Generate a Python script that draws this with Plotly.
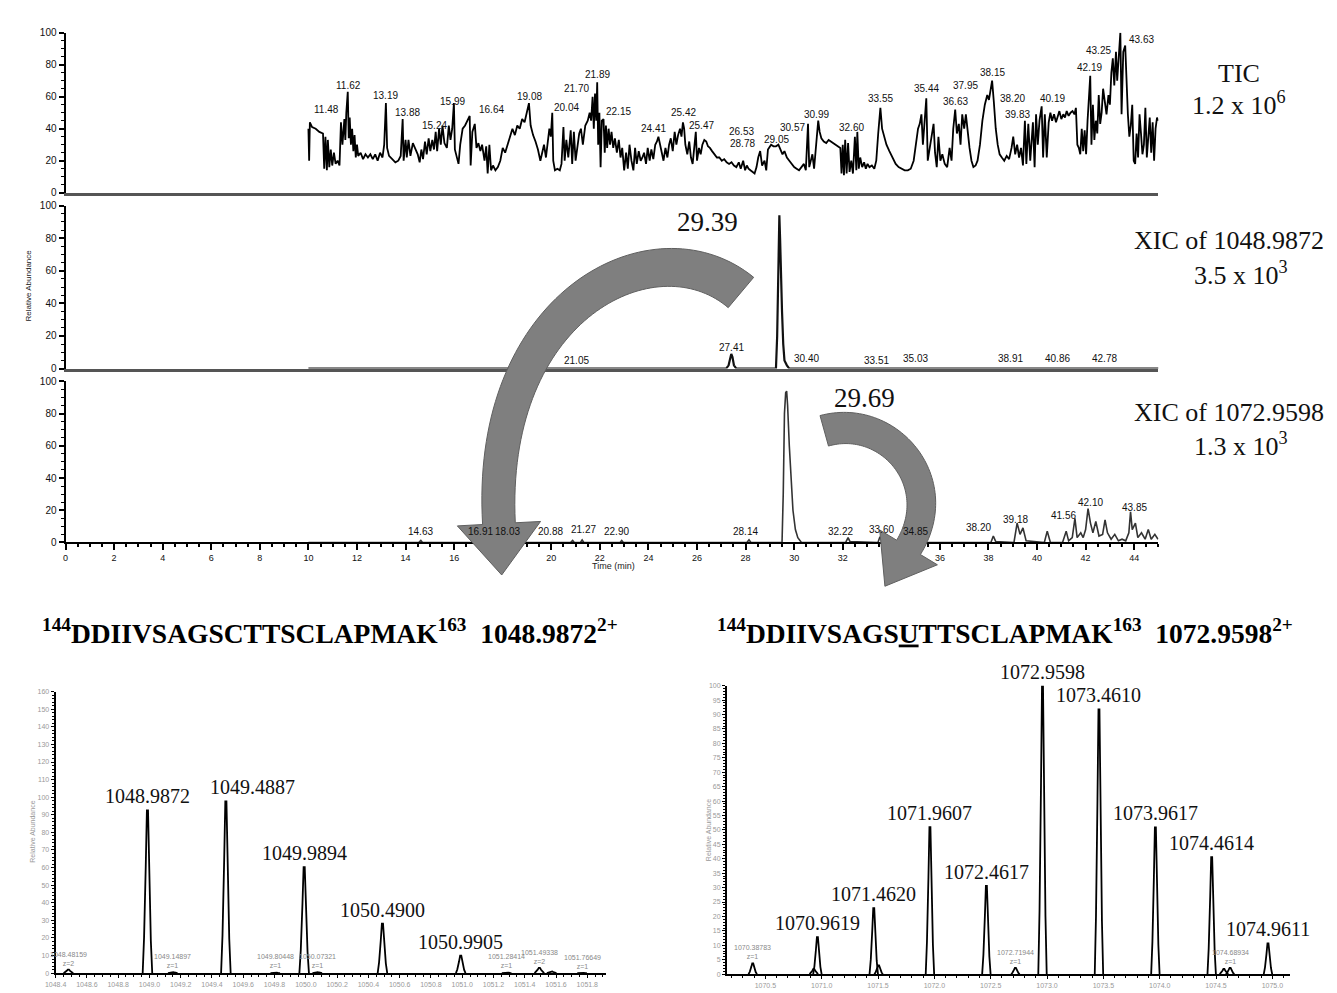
import numpy as np
import plotly.graph_objects as go

W, H = 1337, 993

# ---------------- LC-MS chromatograms (retention time, min / relative abundance, %) ----------------
tic_time = [
    10.00, 10.03, 10.06, 10.15, 10.30, 10.45, 10.60, 10.65, 10.70, 10.76, 10.80, 10.86, 10.92, 10.98,
    11.05, 11.12, 11.20, 11.28, 11.34, 11.40, 11.48, 11.52, 11.56, 11.62, 11.66, 11.70, 11.75, 11.80,
    11.85, 11.90, 11.95, 12.00, 12.05, 12.15, 12.25, 12.35, 12.45, 12.55, 12.65, 12.75, 12.85, 12.95,
    13.05, 13.12, 13.19, 13.24, 13.32, 13.45, 13.58, 13.70, 13.80, 13.88, 13.92, 14.00, 14.05, 14.12,
    14.20, 14.30, 14.40, 14.50, 14.58, 14.65, 14.72, 14.80, 14.87, 14.95, 15.02, 15.10, 15.17, 15.24,
    15.30, 15.38, 15.45, 15.52, 15.60, 15.70, 15.78, 15.85, 15.92, 15.99, 16.03, 16.10, 16.18, 16.25,
    16.35, 16.45, 16.55, 16.64, 16.68, 16.75, 16.85, 16.92, 17.00, 17.08, 17.15, 17.25, 17.32, 17.38,
    17.45, 17.52, 17.60, 17.70, 17.80, 17.90, 18.00, 18.10, 18.20, 18.30, 18.40, 18.50, 18.60, 18.70,
    18.80, 18.90, 19.00, 19.08, 19.15, 19.25, 19.35, 19.45, 19.55, 19.62, 19.70, 19.78, 19.85, 19.92,
    19.98, 20.04, 20.08, 20.15, 20.25, 20.35, 20.42, 20.50, 20.55, 20.62, 20.70, 20.80, 20.86, 20.93,
    21.00, 21.08, 21.15, 21.22, 21.30, 21.40, 21.50, 21.58, 21.64, 21.70, 21.75, 21.80, 21.85, 21.89,
    21.93, 21.98, 22.03, 22.08, 22.15, 22.20, 22.25, 22.30, 22.36, 22.42, 22.48, 22.55, 22.62, 22.70,
    22.78, 22.85, 22.92, 23.00, 23.08, 23.15, 23.22, 23.30, 23.38, 23.45, 23.52, 23.60, 23.68, 23.75,
    23.82, 23.90, 23.97, 24.05, 24.12, 24.20, 24.28, 24.35, 24.41, 24.48, 24.55, 24.62, 24.70, 24.78,
    24.85, 24.92, 25.00, 25.08, 25.15, 25.22, 25.30, 25.36, 25.42, 25.47, 25.52, 25.60, 25.68, 25.75,
    25.82, 25.88, 25.95, 26.00, 26.08, 26.15, 26.22, 26.30, 26.38, 26.45, 26.53, 26.62, 26.72, 26.82,
    26.92, 27.02, 27.12, 27.22, 27.32, 27.42, 27.52, 27.62, 27.72, 27.80, 27.90, 27.98, 28.05, 28.12,
    28.20, 28.28, 28.37, 28.45, 28.52, 28.60, 28.68, 28.78, 28.85, 28.92, 29.00, 29.05, 29.15, 29.25,
    29.35, 29.45, 29.52, 29.60, 29.70, 29.80, 29.90, 30.00, 30.10, 30.20, 30.30, 30.40, 30.48, 30.57,
    30.62, 30.68, 30.75, 30.82, 30.90, 30.99, 31.05, 31.12, 31.22, 31.32, 31.42, 31.52, 31.62, 31.72,
    31.82, 31.90, 31.95, 32.00, 32.05, 32.10, 32.16, 32.22, 32.28, 32.35, 32.42, 32.50, 32.56, 32.60,
    32.66, 32.72, 32.80, 32.88, 32.95, 33.02, 33.10, 33.20, 33.30, 33.38, 33.46, 33.55, 33.62, 33.70,
    33.80, 33.92, 34.05, 34.18, 34.30, 34.42, 34.55, 34.68, 34.80, 34.92, 35.02, 35.10, 35.17, 35.24,
    35.30, 35.37, 35.44, 35.50, 35.58, 35.66, 35.74, 35.80, 35.87, 35.94, 36.02, 36.10, 36.20, 36.30,
    36.40, 36.48, 36.55, 36.63, 36.70, 36.78, 36.85, 36.92, 37.00, 37.07, 37.15, 37.22, 37.30, 37.38,
    37.47, 37.55, 37.65, 37.75, 37.85, 37.95, 38.02, 38.08, 38.15, 38.22, 38.30, 38.38, 38.46, 38.55,
    38.65, 38.75, 38.85, 38.95, 39.02, 39.10, 39.18, 39.26, 39.34, 39.42, 39.50, 39.56, 39.64, 39.72,
    39.83, 39.90, 39.96, 40.03, 40.10, 40.19, 40.25, 40.32, 40.40, 40.48, 40.55, 40.62, 40.70, 40.78,
    40.85, 40.92, 41.00, 41.08, 41.15, 41.22, 41.30, 41.38, 41.46, 41.54, 41.60, 41.66, 41.72, 41.78,
    41.84, 41.90, 41.96, 42.02, 42.08, 42.19, 42.24, 42.30, 42.36, 42.42, 42.48, 42.54, 42.60, 42.66,
    42.72, 42.78, 42.86, 42.94, 43.00, 43.06, 43.12, 43.18, 43.25, 43.30, 43.36, 43.43, 43.48, 43.55,
    43.63, 43.68, 43.74, 43.80, 43.86, 43.92, 43.98, 44.04, 44.10, 44.16, 44.22, 44.28, 44.34, 44.40,
    44.46, 44.52, 44.58, 44.64, 44.70, 44.76, 44.82, 44.88, 44.94, 44.98,
]
tic_abund = [
    40, 20, 44, 41, 40, 38, 37, 15, 35, 14, 33, 16, 27, 17,
    25, 18, 20, 17, 44, 30, 46, 33, 50, 63, 34, 47, 30, 40,
    26, 36, 22, 30, 23, 25, 21, 24, 22, 24, 21, 24, 20, 25,
    22, 30, 56, 28, 23, 21, 19, 20, 23, 46, 20, 33, 22, 33,
    23, 31, 28, 24, 19, 27, 21, 32, 24, 34, 26, 33, 27, 38,
    26, 40, 30, 42, 31, 28, 42, 33, 40, 56, 27, 22, 18, 30,
    40, 42, 45, 48, 17, 38, 43, 28, 31, 26, 30, 20, 29, 12,
    30, 14, 17, 14, 16, 20, 28, 25, 30, 35, 40, 36, 42, 40,
    46, 44, 50, 56, 42, 36, 32, 27, 20, 24, 30, 22, 30, 40,
    35, 50, 20, 14, 15, 14, 18, 41, 20, 33, 22, 39, 18, 38,
    20, 30, 37, 40, 30, 42, 45, 50, 45, 60, 40, 62, 45, 69,
    30, 50, 16, 45, 46, 25, 42, 28, 40, 30, 38, 28, 34, 25,
    33, 22, 28, 14, 25, 15, 30, 20, 14, 28, 18, 26, 20, 22,
    25, 18, 28, 20, 27, 21, 30, 32, 35, 30, 24, 20, 28, 22,
    30, 34, 26, 38, 30, 36, 40, 35, 44, 40, 30, 24, 32, 22,
    18, 26, 38, 20, 28, 24, 30, 33, 32, 29, 28, 26, 24, 22,
    22, 20, 21, 19, 18, 19, 17, 16, 19, 15, 20, 14, 17, 15,
    14, 13, 12, 16, 22, 26, 17, 20, 14, 27, 29, 30, 29, 29,
    30, 27, 24, 26, 22, 20, 18, 16, 15, 14, 16, 18, 14, 43,
    16, 20, 24, 15, 30, 45, 38, 34, 32, 31, 33, 32, 31, 30,
    29, 28, 12, 30, 11, 33, 12, 31, 13, 20, 12, 35, 14, 38,
    15, 22, 16, 19, 15, 18, 16, 17, 15, 20, 37, 53, 40, 35,
    30, 26, 22, 18, 16, 15, 14, 14, 15, 20, 30, 40, 43, 49,
    30, 45, 59, 20, 28, 36, 43, 25, 16, 35, 20, 24, 18, 16,
    28, 20, 40, 52, 37, 43, 30, 49, 40, 49, 35, 28, 20, 16,
    17, 20, 30, 45, 55, 61, 58, 65, 70, 57, 40, 30, 24, 22,
    20, 23, 21, 28, 35, 24, 30, 22, 28, 17, 45, 18, 43, 20,
    44, 16, 49, 30, 45, 54, 22, 49, 22, 44, 50, 45, 49, 44,
    47, 51, 46, 49, 47, 51, 48, 50, 51, 49, 53, 30, 28, 24,
    40, 26, 39, 24, 45, 73, 30, 55, 33, 45, 37, 61, 43, 50,
    65, 57, 49, 61, 55, 75, 84, 67, 88, 70, 82, 100, 49, 88,
    92, 70, 49, 35, 42, 55, 20, 18, 37, 22, 49, 37, 24, 30,
    53, 22, 38, 47, 25, 44, 20, 40, 47, 45,
]

xic1_time = [10.00, 27.20, 27.30, 27.36, 27.41, 27.46, 27.52, 27.62, 29.25, 29.30, 29.35, 29.39,
             29.42, 29.45, 29.50, 29.55, 29.60, 29.70, 29.80, 45.00]
xic1_abund = [0, 0, 2, 7, 9, 7, 2, 0, 0, 20, 70, 94,
              80, 60, 35, 15, 5, 2, 0, 0]

xic2_time = [10.00, 14.55, 14.63, 14.70, 20.80, 20.88, 20.95, 21.20, 21.27, 21.34, 22.83, 22.90,
             22.97, 28.05, 28.14, 28.22, 29.50, 29.55, 29.60, 29.65, 29.69, 29.73, 29.80, 29.88,
             29.95, 30.05, 30.15, 30.30, 32.12, 32.22, 32.30, 33.45, 33.52, 33.60, 33.68, 33.76,
             33.85, 34.75, 34.85, 34.95, 38.10, 38.20, 38.30, 39.05, 39.18, 39.30, 39.42, 39.55,
             40.30, 40.42, 40.55, 41.05, 41.20, 41.30, 41.45, 41.56, 41.65, 41.80, 41.90, 42.00,
             42.10, 42.20, 42.30, 42.42, 42.55, 42.70, 42.80, 42.90, 43.05, 43.20, 43.35, 43.50,
             43.65, 43.78, 43.85, 43.92, 44.05, 44.15, 44.30, 44.45, 44.58, 44.70, 44.85, 44.98]
xic2_abund = [0, 0, 1.2, 0, 0, 1.2, 0, 0, 1.6, 0, 0, 1.2,
              0, 0, 1.6, 0, 0, 30, 80, 93, 94, 85, 60, 35,
              20, 8, 3, 0, 0, 3, 0.5, 0, 3, 2, 3.5, 0.5,
              0, 0, 2, 0, 0, 4, 0.5, 0, 12, 5, 9, 1,
              0, 7, 0, 0, 7, 1, 3, 15, 3, 6, 3, 8,
              21, 12, 6, 13, 4, 5, 14, 6, 2, 5, 1, 2,
              1, 6, 19, 8, 12, 3, 6, 2, 8, 2, 5, 2]

# labelled retention times, with the position at which each label sits
tic_label_rt = [11.48, 11.62, 13.19, 13.88, 15.24, 15.99, 16.64, 19.08, 20.04, 21.70, 21.89,
                22.15, 24.41, 25.42, 25.47, 26.53, 28.78, 29.05, 30.57, 30.99, 32.60, 33.55,
                35.44, 36.63, 37.95, 38.15, 38.20, 39.83, 40.19, 42.19, 43.25, 43.43, 43.63]
tic_label_x = [10.73, 11.67, 13.18, 14.08, 15.18, 15.92, 17.55, 19.10, 20.61, 21.02, 21.92,
               22.78, 24.20, 25.43, 26.20, 27.84, 27.88, 29.27, 29.92, 30.94, 32.37, 33.55,
               35.43, 36.65, 37.06, 38.16, 38.98, 39.18, 40.65, 42.16, 42.53, 43.39, 44.29]
tic_label_y = [52, 67, 61, 50, 42, 57, 52, 60, 53, 65, 74,
               51, 40, 50, 42, 38, 31, 33, 41, 49, 41, 59,
               65, 57, 67, 75, 59, 49, 59, 78, 89, 105, 96]

xic1_label_rt = [21.05, 27.41, 30.40, 33.51, 35.03, 38.91, 40.86, 42.78]
xic1_label_x = [21.02, 27.43, 30.50, 33.39, 34.98, 38.90, 40.86, 42.78]
xic1_label_y = [5, 13, 6, 5, 6, 6, 6, 6]

xic2_label_rt = [14.63, 16.91, 18.03, 20.88, 21.27, 22.90, 28.14, 32.22, 33.60, 34.85,
                 38.20, 39.18, 41.56, 42.10, 43.85]
xic2_label_x = [14.62, 17.10, 18.20, 19.95, 21.33, 22.70, 28.00, 31.90, 33.60, 35.00,
                37.60, 39.10, 41.10, 42.20, 44.00]
xic2_label_y = [7, 7, 7, 7, 8, 7, 7, 7, 8, 7, 9, 14, 17, 25, 22]

# ---------------- isotope envelopes (m/z / relative abundance) ----------------
ms1_mz = [1048.9872, 1049.4887, 1049.9894, 1050.4900, 1050.9905]
ms1_int = [92.5, 97.6, 60.2, 28.1, 10.0]
ms1_minor_mz = [1048.4816, 1049.1490, 1049.8045, 1050.0732, 1051.2841, 1051.4934, 1051.5720,
                1051.7665]
ms1_minor_int = [2.0, 0.6, 0.4, 0.6, 0.5, 3.0, 1.0, 0.3]
ms1_minor_txt = ["1048.48159<br>z=2", "1049.14897<br>z=1", "1049.80448<br>z=1", "1050.07321<br>z=1",
                 "1051.28414<br>z=1", "1051.49338<br>z=2", "", "1051.76649<br>z=1"]

ms2_mz = [1070.9619, 1071.4620, 1071.9607, 1072.4617, 1072.9598, 1073.4610, 1073.9617,
          1074.4614, 1074.9611]
ms2_int = [12.8, 22.9, 51.0, 30.6, 100.0, 91.8, 50.9, 40.6, 10.7]
ms2_minor_mz = [1070.3878, 1070.9300, 1071.5050, 1072.7194, 1074.5700, 1074.6250]
ms2_minor_int = [3.7, 1.8, 3.0, 2.2, 1.8, 2.2]
ms2_minor_txt = ["1070.38783<br>z=1", "", "", "1072.71944<br>z=1", "", "1074.68934<br>z=1"]

SERIF = "Liberation Serif, Times New Roman, serif"
NARROW = "Liberation Sans Narrow, Arial Narrow, Liberation Sans, Arial, sans-serif"

fig = go.Figure()

# chromatogram traces
fig.add_trace(go.Scatter(x=tic_time, y=tic_abund, mode="lines", xaxis="x", yaxis="y",
                         line=dict(color="#000000", width=1.8), hoverinfo="skip", showlegend=False))
fig.add_trace(go.Scatter(x=xic1_time, y=xic1_abund, mode="lines", xaxis="x2", yaxis="y2",
                         line=dict(color="#111111", width=2.2), hoverinfo="skip", showlegend=False))
fig.add_trace(go.Scatter(x=xic2_time, y=xic2_abund, mode="lines", xaxis="x3", yaxis="y3",
                         line=dict(color="#333333", width=1.6), hoverinfo="skip", showlegend=False))

# profile shape used to draw each centroid as a sampled peak
prof_off = [-0.034, -0.024, -0.012, -0.004, 0.004, 0.012, 0.024, 0.034]
prof_rel = [0.0, 0.22, 0.66, 1.0, 1.0, 0.64, 0.2, 0.0]


def profile(centres, heights, scale=1.0):
    xs, ys = [], []
    for c, h in zip(centres, heights):
        for o, r in zip(prof_off, prof_rel):
            xs.append(c + o * scale)
            ys.append(h * r)
        xs.append(None)
        ys.append(None)
    return xs, ys


for mz, it, xa, ya, sc in [(ms1_mz + ms1_minor_mz, ms1_int + ms1_minor_int, "x4", "y4", 0.9),
                           (ms2_mz + ms2_minor_mz, ms2_int + ms2_minor_int, "x5", "y5", 1.1)]:
    px, py = profile(mz, it, sc)
    fig.add_trace(go.Scatter(x=px, y=py, mode="lines", xaxis=xa, yaxis=ya, connectgaps=False,
                             line=dict(color="#000000", width=1.8), hoverinfo="skip",
                             showlegend=False))

annotations = []


def ann(**kw):
    base = dict(showarrow=False, xanchor="center", yanchor="middle")
    base.update(kw)
    annotations.append(base)


small = dict(family=NARROW, size=10, color="#111111")
for rt, lx, ly in zip(tic_label_rt, tic_label_x, tic_label_y):
    ann(x=lx, y=ly, xref="x", yref="y", text=f"{rt:.2f}", font=small)
for rt, lx, ly in zip(xic1_label_rt, xic1_label_x, xic1_label_y):
    ann(x=lx, y=ly, xref="x2", yref="y2", text=f"{rt:.2f}", font=small)
ann(x=29.39, y=106, xref="x2", yref="y2", text="29.39", font=dict(family=NARROW, size=9, color="#bbbbbb"))
for rt, lx, ly in zip(xic2_label_rt, xic2_label_x, xic2_label_y):
    ann(x=lx, y=ly, xref="x3", yref="y3", text=f"{rt:.2f}", font=small)

big = dict(family=SERIF, size=27, color="#111111")
ann(x=29.39, y=90, xref="x2", yref="y2", xshift=-72, text="29.39", font=big)
ann(x=29.69, y=90, xref="x3", yref="y3", xshift=78, text="29.69", font=big)

side = dict(family=SERIF, size=26, color="#111111")
ann(x=1238 / W, y=1 - 68 / H, xref="paper", yref="paper", text="TIC", font=side)
ann(x=1238 / W, y=1 - 99 / H, xref="paper", yref="paper", text="1.2 x 10<sup>6</sup>", font=side)
ann(x=1228 / W, y=1 - 237 / H, xref="paper", yref="paper", text="XIC of 1048.9872", font=side)
ann(x=1240 / W, y=1 - 271 / H, xref="paper", yref="paper", text="3.5 x 10<sup>3</sup>", font=side)
ann(x=1228 / W, y=1 - 411 / H, xref="paper", yref="paper", text="XIC of 1072.9598", font=side)
ann(x=1240 / W, y=1 - 444 / H, xref="paper", yref="paper", text="1.3 x 10<sup>3</sup>", font=side)

ann(x=18 / W, y=1 - 283 / H, xref="paper", yref="paper", text="Relative Abundance", textangle=-90,
    font=dict(family=NARROW, size=8, color="#222222"))
ann(x=607 / W, y=1 - 567 / H, xref="paper", yref="paper", text="Time (min)",
    font=dict(family=NARROW, size=9, color="#222222"))

pep = dict(family=SERIF, size=27.5, color="#000000")
ann(x=322 / W, y=1 - 633 / H, xref="paper", yref="paper", font=pep,
    text="<b><sup>144</sup>DDIIVSAGSCTTSCLAPMAK<sup>163</sup>  1048.9872<sup>2+</sup></b>")
ann(x=1002 / W, y=1 - 633 / H, xref="paper", yref="paper", font=pep,
    text="<b><sup>144</sup>DDIIVSAGS<u>U</u>TTSCLAPMAK<sup>163</sup>  1072.9598<sup>2+</sup></b>")

mzfont = dict(family=SERIF, size=20, color="#111111")
for mz, it in zip(ms1_mz, ms1_int):
    ann(x=mz, y=it, xref="x4", yref="y4", text=f"{mz:.4f}", font=mzfont, yanchor="bottom",
        yshift=1, xshift=27 if mz == 1049.4887 else 0)
for mz, it in zip(ms2_mz, ms2_int):
    ann(x=mz, y=it, xref="x5", yref="y5", text=f"{mz:.4f}", font=mzfont, yanchor="bottom", yshift=1)
tiny = dict(family="Liberation Sans, Arial", size=7, color="#888888")
for mz, it, t in zip(ms1_minor_mz, ms1_minor_int, ms1_minor_txt):
    if t:
        ann(x=mz, y=it, xref="x4", yref="y4", text=t, font=tiny, yanchor="bottom", yshift=1)
for mz, it, t in zip(ms2_minor_mz, ms2_minor_int, ms2_minor_txt):
    if t:
        ann(x=mz, y=it, xref="x5", yref="y5", text=t, font=tiny, yanchor="bottom", yshift=1)
ann(x=22 / W, y=1 - 836 / H, xref="paper", yref="paper", text="Relative Abundance", textangle=-90,
    font=dict(family="Liberation Sans, Arial", size=7, color="#999999"))
ann(x=704 / W, y=1 - 834 / H, xref="paper", yref="paper", text="Relative Abundance", textangle=-90,
    font=dict(family="Liberation Sans, Arial", size=7, color="#999999"))


# curved block arrows linking each XIC peak to its peptide
def block_arrow(p0, p1, p2, p3, w0, w1, head_w, head_len, n=70):
    t = np.linspace(0.0, 1.0, n)
    P = np.array([p0, p1, p2, p3], float)
    B = ((1 - t) ** 3)[:, None] * P[0] + (3 * (1 - t) ** 2 * t)[:, None] * P[1] \
        + (3 * (1 - t) * t ** 2)[:, None] * P[2] + (t ** 3)[:, None] * P[3]
    D = (3 * (1 - t) ** 2)[:, None] * (P[1] - P[0]) + (6 * (1 - t) * t)[:, None] * (P[2] - P[1]) \
        + (3 * t ** 2)[:, None] * (P[3] - P[2])
    D /= np.linalg.norm(D, axis=1)[:, None]
    N = np.stack([-D[:, 1], D[:, 0]], axis=1)
    hw = (w0 + (w1 - w0) * t) / 2
    left = B + N * hw[:, None]
    right = B - N * hw[:, None]
    end, d, nrm = B[-1], D[-1], N[-1]
    pts = list(left) + [end + nrm * head_w, end + d * head_len, end - nrm * head_w] + list(right[::-1])
    return "M " + " L ".join(f"{x / W:.5f},{1 - y / H:.5f}" for x, y in pts) + " Z"


shapes = [
    dict(type="path", xref="paper", yref="paper", layer="above",
         path=block_arrow((736, 290), (650, 218), (480, 300), (492, 524), 40, 33, 42, 52),
         fillcolor="#7f7f7f", line=dict(color="#5f5f5f", width=1)),
    dict(type="path", xref="paper", yref="paper", layer="above",
         path=block_arrow((820, 430), (885, 412), (945, 482), (905, 548), 32, 28, 34, 46),
         fillcolor="#7f7f7f", line=dict(color="#5f5f5f", width=1)),
]

xdom = [55 / W, 1157 / W]
tickfont = dict(family=NARROW, size=10, color="#111111")
yax = dict(range=[0, 100], tickvals=[0, 20, 40, 60, 80, 100], ticks="outside", ticklen=5,
           tickwidth=1.5, tickcolor="#000", showline=True, linecolor="#000", linewidth=2,
           showgrid=False, zeroline=False, tickfont=tickfont,
           minor=dict(dtick=5, ticks="outside", ticklen=3, tickcolor="#000", tickwidth=1.2))
xax = dict(domain=xdom, range=[0, 45], showgrid=False, zeroline=False, showline=True,
           linecolor="#555555", linewidth=2.5, ticks="", showticklabels=False)

specfont = dict(family="Liberation Sans, Arial", size=7, color="#999999")
spec_y = dict(showgrid=False, zeroline=False, showline=True, linecolor="#000", linewidth=2,
              ticks="outside", ticklen=3, tickcolor="#000", tickfont=specfont)
spec_x = dict(showgrid=False, zeroline=False, showline=True, linecolor="#000", linewidth=2,
              ticks="outside", ticklen=3, tickcolor="#000", tickfont=specfont)

fig.update_layout(
    width=W, height=H, margin=dict(l=0, r=0, t=0, b=0), paper_bgcolor="white",
    plot_bgcolor="white", showlegend=False,
    xaxis=dict(xax, anchor="y"),
    yaxis=dict(yax, domain=[1 - 189 / H, 1 - 27 / H], anchor="x"),
    xaxis2=dict(xax, anchor="y2"),
    yaxis2=dict(yax, domain=[1 - 367 / H, 1 - 202 / H], anchor="x2"),
    xaxis3=dict(xax, anchor="y3", ticks="outside", showticklabels=True, tickvals=list(range(0, 46, 2)),
                ticklen=6, tickwidth=2, tickcolor="#000", linecolor="#000", linewidth=2,
                tickfont=dict(family=NARROW, size=9, color="#111111"),
                minor=dict(dtick=0.5, ticks="outside", ticklen=3, tickwidth=2, tickcolor="#000")),
    yaxis3=dict(yax, domain=[1 - 543 / H, 1 - 380 / H], anchor="x3"),
    xaxis4=dict(spec_x, domain=[45 / W, 600 / W], range=[1048.40, 1051.92], anchor="y4",
                tickvals=[round(1048.4 + 0.2 * i, 1) for i in range(18)], tickformat=".1f",
                minor=dict(dtick=0.05, ticks="outside", ticklen=2, tickcolor="#000")),
    yaxis4=dict(spec_y, domain=[1 - 979 / H, 1 - 694 / H], range=[0, 160], anchor="x4", dtick=10,
                minor=dict(dtick=2, ticks="outside", ticklen=2, tickcolor="#000")),
    xaxis5=dict(spec_x, domain=[722 / W, 1290 / W], range=[1070.16, 1075.16], anchor="y5",
                tickvals=[1070.5 + 0.5 * i for i in range(10)], tickformat=".1f",
                minor=dict(dtick=0.1, ticks="outside", ticklen=2, tickcolor="#000")),
    yaxis5=dict(spec_y, domain=[1 - 980 / H, 1 - 688 / H], range=[0, 100], anchor="x5", dtick=5,
                minor=dict(dtick=1, ticks="outside", ticklen=2, tickcolor="#000")),
    annotations=annotations,
    shapes=shapes,
)

fig.write_html("out.html")
